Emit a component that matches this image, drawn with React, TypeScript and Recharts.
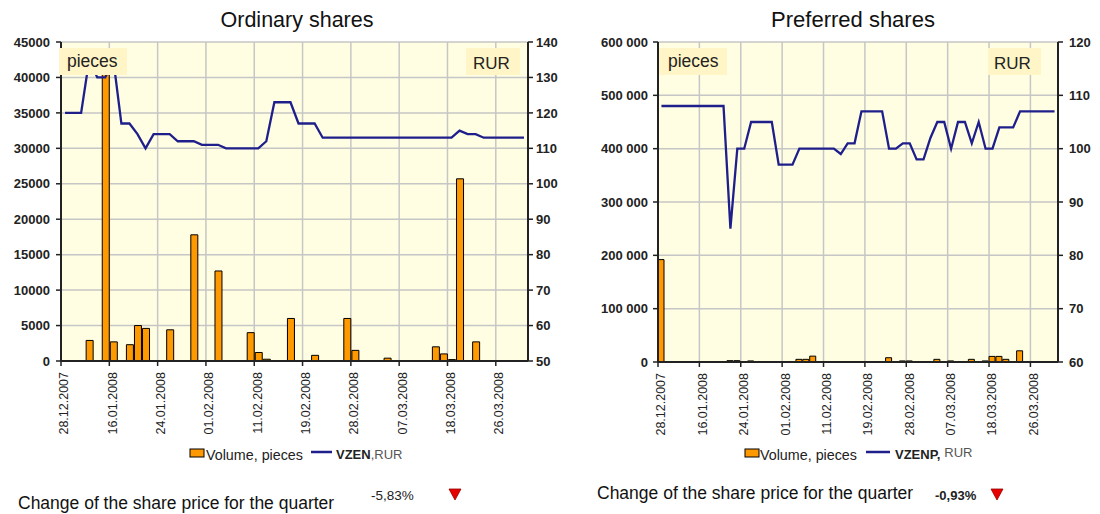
import React from 'react';
import { ComposedChart, Bar, Line, XAxis, YAxis, CartesianGrid } from 'recharts';

const FONT = 'Arial, "Liberation Sans", Helvetica, sans-serif';

// Category axis: 58 trading days, labels every 6th day (placed at day boundaries)
const dateTickLabels = ['28.12.2007', '16.01.2008', '24.01.2008', '01.02.2008', '11.02.2008', '19.02.2008', '28.02.2008', '07.03.2008', '18.03.2008', '26.03.2008'];
const dateTickIndex = [0, 6, 12, 18, 24, 30, 36, 42, 48, 54];
const categoryCount = 58;

// Ordinary shares (VZEN)
const ordinaryPrice = [
  120, 120, 120, 135, 130, 130, 135, 117, 117, 114,
  110, 114, 114, 114, 112, 112, 112, 111, 111, 111,
  110, 110, 110, 110, 110, 112, 123, 123, 123, 117,
  117, 117, 113, 113, 113, 113, 113, 113, 113, 113,
  113, 113, 113, 113, 113, 113, 113, 113, 113, 115,
  114, 114, 113, 113, 113, 113, 113, 113,
];
const ordinaryVolume: (number | null)[] = [
  null, null, null, 2900, null, 42000, 2700, null, 2300, 5000,
  4600, null, null, 4400, null, null, 17800, null, null, 12700,
  null, null, null, 4000, 1200, 250, null, null, 6000, null,
  null, 800, null, null, null, 6000, 1500, null, null, null,
  400, null, null, null, null, null, 2000, 1000, 200, 25700,
  null, 2700, null, null, null, null, null, null,
];
const ordinaryVolumeTicks = [0, 5000, 10000, 15000, 20000, 25000, 30000, 35000, 40000, 45000];
const ordinaryPriceTicks = [50, 60, 70, 80, 90, 100, 110, 120, 130, 140];

// Preferred shares (VZENP)
const preferredPrice = [
  108, 108, 108, 108, 108, 108, 108, 108, 108, 108,
  85, 100, 100, 105, 105, 105, 105, 97, 97, 97,
  100, 100, 100, 100, 100, 100, 99, 101, 101, 107,
  107, 107, 107, 100, 100, 101, 101, 98, 98, 102,
  105, 105, 100, 105, 105, 101, 105, 100, 100, 104,
  104, 104, 107, 107, 107, 107, 107, 107,
];
const preferredVolume: (number | null)[] = [
  192000, null, null, null, null, null, null, null, null, null,
  2500, 2500, null, 2000, null, null, null, null, null, null,
  5000, 5000, 11000, null, null, null, null, null, null, null,
  null, null, null, 8000, null, 2000, 2000, null, null, null,
  5000, null, 2000, null, null, 5000, null, 2000, 10500, 10500,
  5000, null, 21000, null, null, null, null, null,
];
const preferredVolumeTicks = [0, 100000, 200000, 300000, 400000, 500000, 600000];
const preferredPriceTicks = [60, 70, 80, 90, 100, 110, 120];

const buildRows = (vol: (number | null)[], price: number[]) =>
  vol.map((v, i) => ({ x: i + 0.5, volume: v, price: price[i] }));

const ordinaryRows = buildRows(ordinaryVolume, ordinaryPrice);
const preferredRows = buildRows(preferredVolume, preferredPrice);

const spaced = (v: number) => String(v).replace(/\B(?=(\d{3})+(?!\d))/g, ' ');

const DateTick = (props: any) => {
  const { x, y, payload } = props;
  const idx = dateTickIndex.indexOf(payload.value);
  const label = idx >= 0 ? dateTickLabels[idx] : '';
  const cx = x + 3;
  return (
    <text
      x={cx}
      y={y}
      transform={`rotate(-90, ${cx}, ${y})`}
      textAnchor="end"
      dy="0.35em"
      fontSize={12.5}
      fontFamily={FONT}
      fill="#222"
    >
      {label}
    </text>
  );
};

const GRID = '#C6C6C6';
const AXIS = '#222';
const BAR_FILL = '#FF9900';
const LINE_COLOR = '#1F1F8C';
const PLOT_BG = '#FFFEE3';
const BOX_BG = '#FFF5C6';

type PanelProps = {
  rows: any[];
  width: number;
  leftWidth: number;
  rightWidth: number;
  bottomMargin: number;
  volDomain: [number, number];
  volTicks: number[];
  priceDomain: [number, number];
  priceTicks: number[];
  volFormat?: (v: number) => string;
  barSize: number;
  leftMargin: number;
  rightMargin: number;
};

const Panel = (p: PanelProps) => (
  <ComposedChart
    width={p.width}
    height={440}
    data={p.rows}
    margin={{ top: 42, right: 0, bottom: p.bottomMargin, left: 0 }}
    style={{ fontFamily: FONT }}
  >
    <CartesianGrid yAxisId="left" stroke={GRID} strokeWidth={1.5} fill={PLOT_BG} fillOpacity={1} />
    <XAxis
      dataKey="x"
      type="number"
      domain={[0, categoryCount]}
      ticks={dateTickIndex}
      interval={0}
      allowDataOverflow
      tick={<DateTick />}
      tickSize={5}
      tickMargin={6}
      height={70}
      axisLine={{ stroke: AXIS, strokeWidth: 2 }}
      tickLine={{ stroke: AXIS, strokeWidth: 1.5 }}
    />
    <YAxis
      yAxisId="left"
      orientation="left"
      domain={p.volDomain}
      ticks={p.volTicks}
      interval={0}
      allowDataOverflow
      width={p.leftWidth}
      tickFormatter={p.volFormat}
      tick={{ fontSize: 13, fontWeight: 'bold', fill: '#222', fontFamily: FONT }}
      tickSize={5}
      tickMargin={p.leftMargin}
      axisLine={{ stroke: AXIS, strokeWidth: 2 }}
      tickLine={{ stroke: AXIS, strokeWidth: 1.5 }}
    />
    <YAxis
      yAxisId="right"
      orientation="right"
      domain={p.priceDomain}
      ticks={p.priceTicks}
      interval={0}
      allowDataOverflow
      width={p.rightWidth}
      tick={{ fontSize: 13, fontWeight: 'bold', fill: '#222', fontFamily: FONT }}
      tickSize={5}
      tickMargin={p.rightMargin}
      axisLine={{ stroke: AXIS, strokeWidth: 2 }}
      tickLine={{ stroke: AXIS, strokeWidth: 1.5 }}
    />
    <Bar
      yAxisId="left"
      dataKey="volume"
      fill={BAR_FILL}
      stroke="#000"
      strokeWidth={1}
      barSize={p.barSize}
      isAnimationActive={false}
    />
    <Line
      yAxisId="right"
      dataKey="price"
      type="linear"
      stroke={LINE_COLOR}
      strokeWidth={2.3}
      dot={false}
      isAnimationActive={false}
    />
  </ComposedChart>
);

const TriangleDown = ({ x, y }: { x: number; y: number }) => (
  <polygon points={`${x},${y} ${x + 12},${y} ${x + 6},${y + 11}`} fill="#E60000" stroke="#900" strokeWidth={0.8} />
);

export default function App() {
  return (
    <div style={{ position: 'absolute', left: 0, top: 0, width: 1100, height: 514, background: '#fff', fontFamily: FONT }}>
      <div style={{ position: 'absolute', left: 0, top: 0 }}>
        <Panel
          rows={ordinaryRows}
          width={560}
          leftWidth={61}
          rightWidth={32}
          bottomMargin={9}
          volDomain={[0, 45000]}
          volTicks={ordinaryVolumeTicks}
          priceDomain={[50, 140]}
          priceTicks={ordinaryPriceTicks}
          barSize={7}
          leftMargin={6}
          rightMargin={3}
        />
      </div>
      <div style={{ position: 'absolute', left: 560, top: 0 }}>
        <Panel
          rows={preferredRows}
          width={540}
          leftWidth={98}
          rightWidth={42}
          bottomMargin={8}
          volDomain={[0, 600000]}
          volTicks={preferredVolumeTicks}
          volFormat={spaced}
          priceDomain={[60, 120]}
          priceTicks={preferredPriceTicks}
          barSize={6}
          leftMargin={5}
          rightMargin={6}
        />
      </div>
      <svg width={1100} height={514} style={{ position: 'absolute', left: 0, top: 0, pointerEvents: 'none' }}>
        {/* Titles */}
        <text x={297} y={27} textAnchor="middle" fontSize={21.5} fontFamily={FONT} fill="#111">Ordinary shares</text>
        <text x={853} y={27} textAnchor="middle" fontSize={22} fontFamily={FONT} fill="#111">Preferred shares</text>

        {/* Unit boxes, left chart */}
        <rect x={59} y={48} width={68} height={27} fill={BOX_BG} />
        <text x={67} y={67} fontSize={17.5} fontFamily={FONT} fill="#222">pieces</text>
        <rect x={466} y={48} width={54} height={27} fill={BOX_BG} />
        <text x={473} y={69} fontSize={17} fontFamily={FONT} fill="#222">RUR</text>

        {/* Unit boxes, right chart */}
        <rect x={659} y={48} width={68} height={27} fill={BOX_BG} />
        <text x={668} y={67} fontSize={17.5} fontFamily={FONT} fill="#222">pieces</text>
        <rect x={988} y={48} width={53} height={27} fill={BOX_BG} />
        <text x={994} y={69} fontSize={17} fontFamily={FONT} fill="#222">RUR</text>

        {/* Legend, left chart */}
        <rect x={190} y={449} width={14} height={8} fill={BAR_FILL} stroke="#000" strokeWidth={1} />
        <text x={206} y={460} fontSize={14.3} fontFamily={FONT} fill="#222">Volume, pieces</text>
        <line x1={311} y1={452} x2={332} y2={452} stroke={LINE_COLOR} strokeWidth={2.5} />
        <text x={336} y={459} fontSize={13} fontFamily={FONT} fill="#222">
          <tspan fontWeight="bold">VZEN</tspan>
          <tspan fill="#555">,RUR</tspan>
        </text>

        {/* Legend, right chart */}
        <rect x={745} y={449} width={14} height={8} fill={BAR_FILL} stroke="#000" strokeWidth={1} />
        <text x={760} y={460} fontSize={14.3} fontFamily={FONT} fill="#222">Volume, pieces</text>
        <line x1={866} y1={452} x2={890} y2={452} stroke={LINE_COLOR} strokeWidth={2.5} />
        <text x={895} y={459} fontSize={13} fontFamily={FONT} fill="#222">
          <tspan fontWeight="bold">VZENP,</tspan>
          <tspan fill="#555" dx={4} dy={-2}>RUR</tspan>
        </text>

        {/* Quarter change, left */}
        <text x={18} y={509} fontSize={17.5} fontFamily={FONT} fill="#111">Change of the share price for the quarter</text>
        <text x={371} y={500} fontSize={13.5} fontFamily={FONT} fill="#222">-5,83%</text>
        <TriangleDown x={449} y={489} />

        {/* Quarter change, right */}
        <text x={597} y={499} fontSize={17.5} fontFamily={FONT} fill="#111">Change of the share price for the quarter</text>
        <text x={935} y={500} fontSize={13} fontWeight="bold" fontFamily={FONT} fill="#222">-0,93%</text>
        <TriangleDown x={991} y={489} />
      </svg>
    </div>
  );
}
